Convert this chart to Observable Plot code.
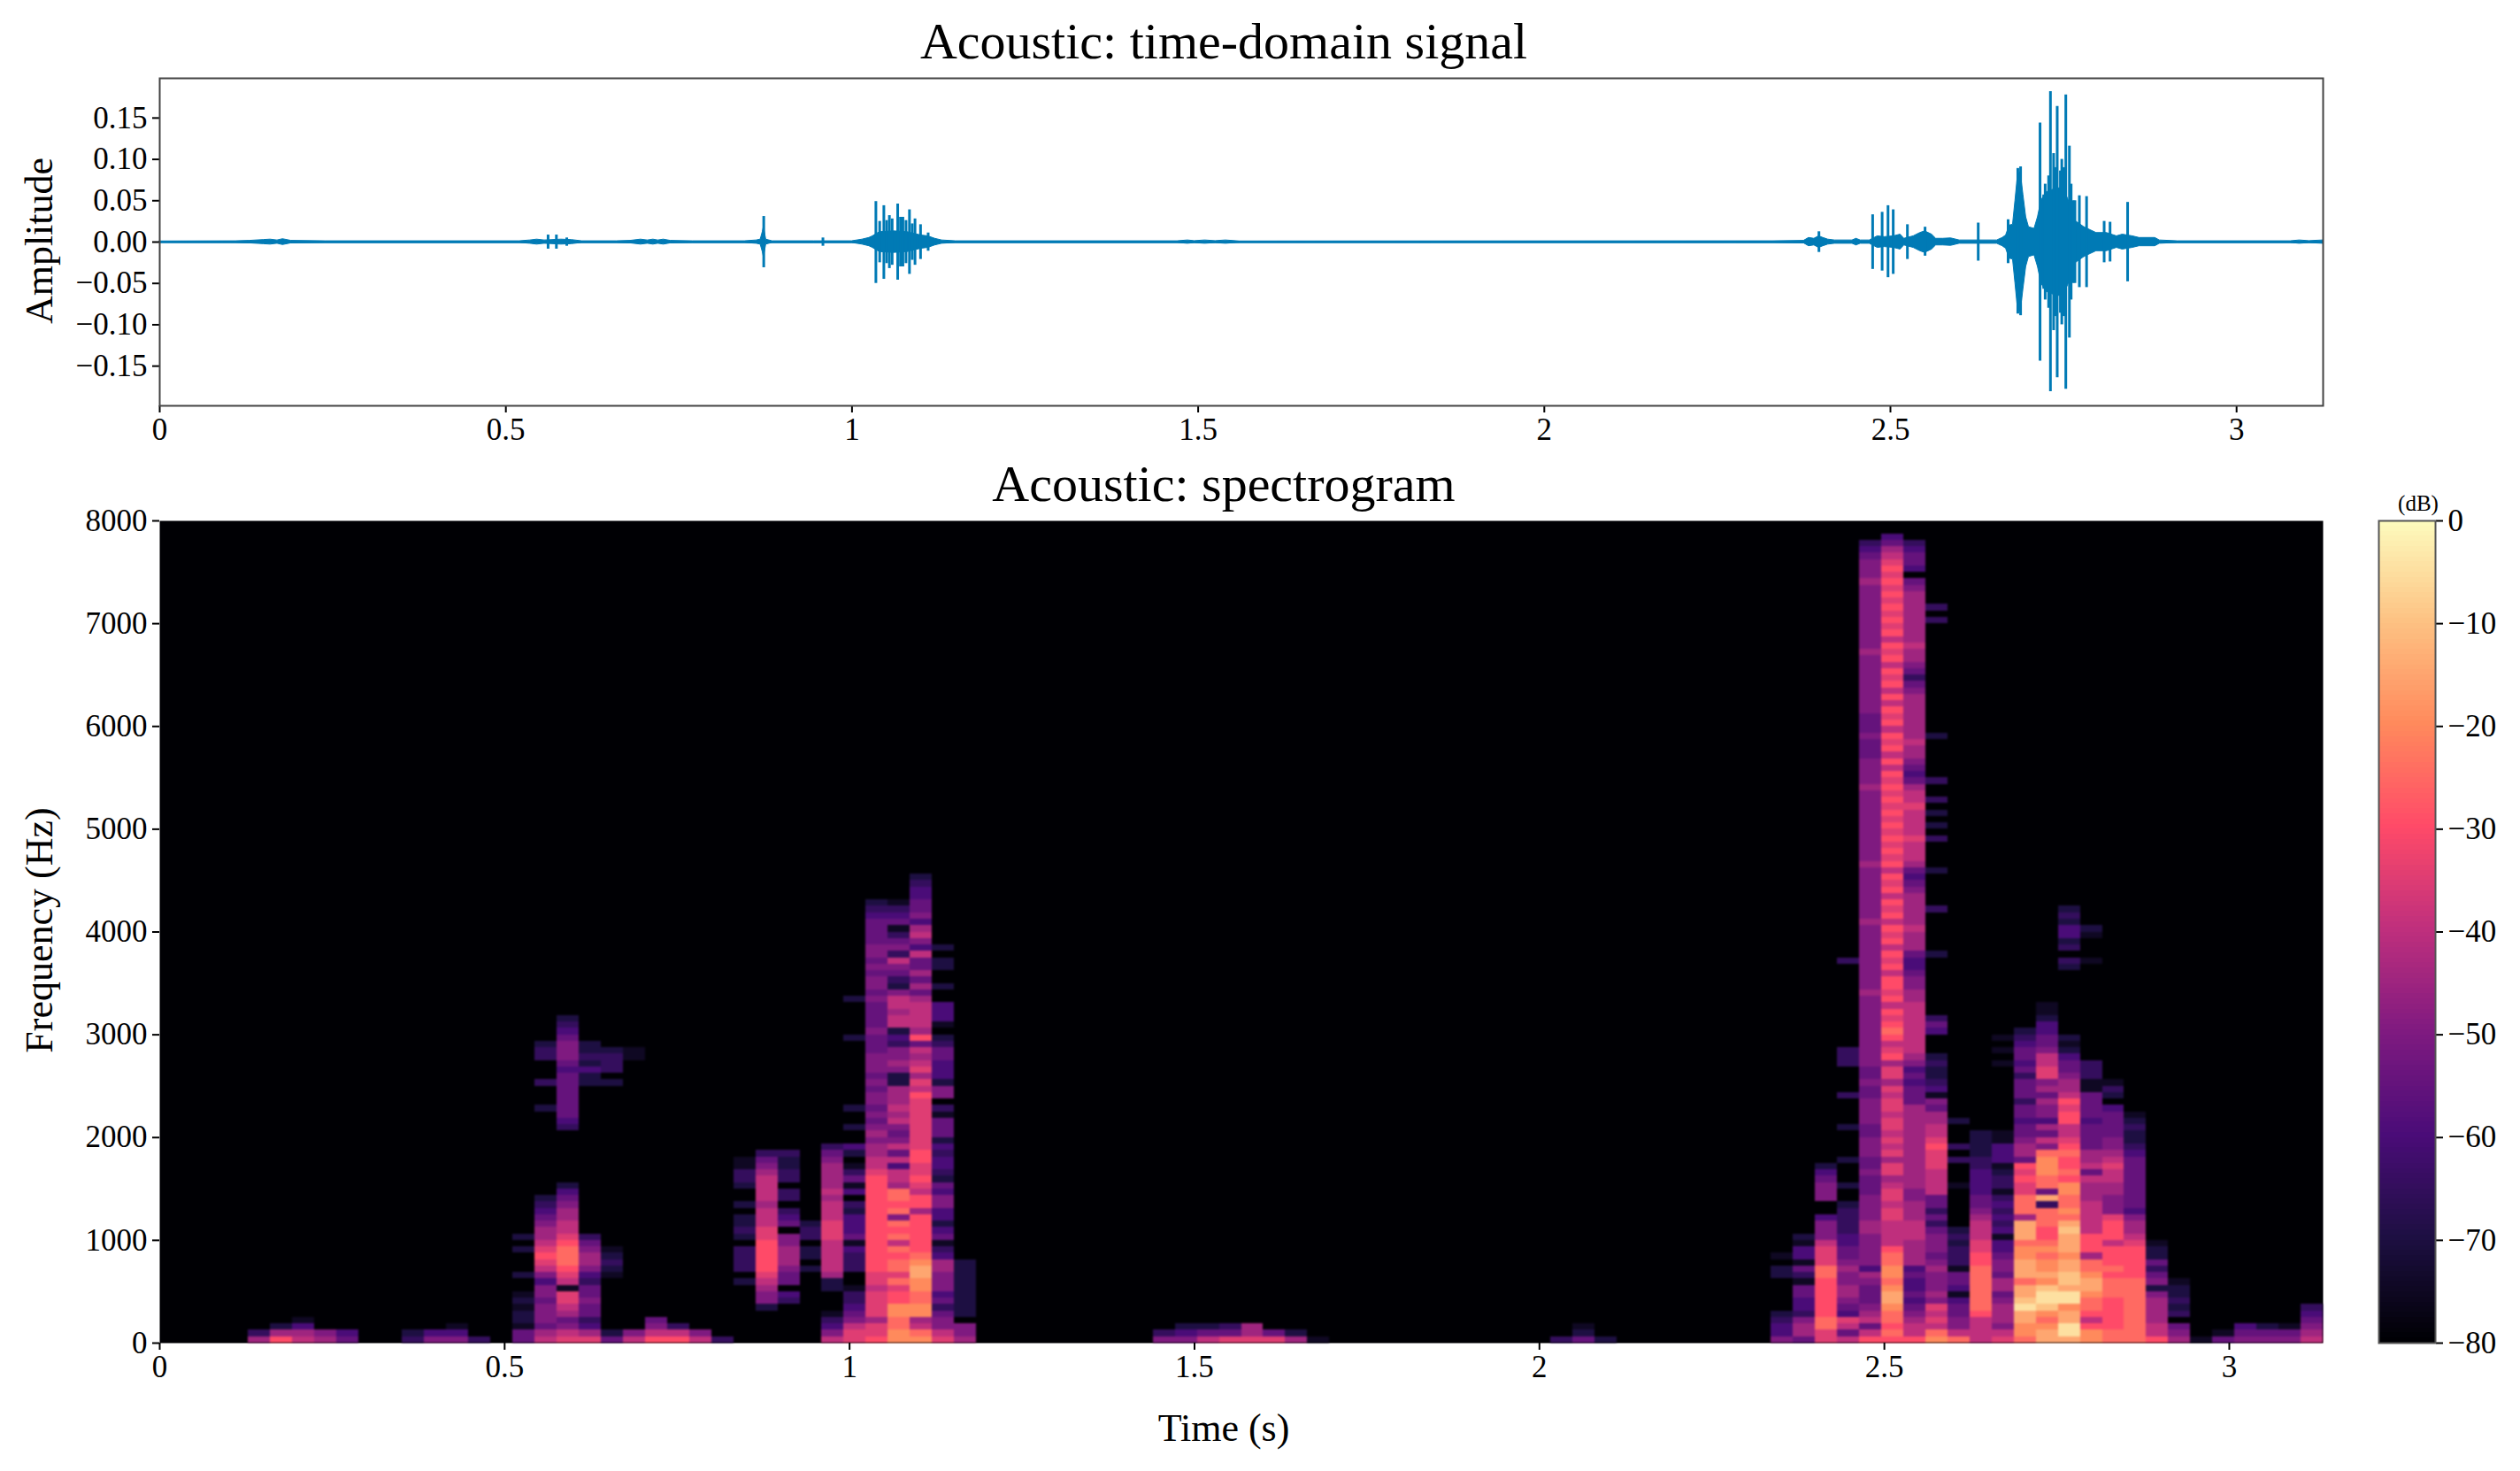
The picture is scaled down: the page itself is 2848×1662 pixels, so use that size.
<!DOCTYPE html>
<html>
<head>
<meta charset="utf-8">
<title>Acoustic</title>
<script src="https://cdn.jsdelivr.net/npm/d3@7"></script>
<script src="https://cdn.jsdelivr.net/npm/@observablehq/plot@0.6"></script>
<style>
  html, body { margin: 0; background: #fff; }
  #page { position: relative; width: 2848px; height: 1662px; overflow: hidden; font-family: "Liberation Serif", serif; color: #000; }
  #page svg { position: absolute; overflow: visible; }
  .label { position: absolute; white-space: nowrap; line-height: 1; }
  .title { font-size: 58px; left: 1383px; transform: translateX(-50%); }
  .axis { font-size: 44px; }
  .rot { left: 45px; transform: translate(-50%, -50%) rotate(-90deg); }
  .cells { filter: blur(1px); }
</style>
</head>
<body>
<div id="page">
  <div class="label title" style="top:18px">Acoustic: time-domain signal</div>
  <div class="label title" style="top:518px">Acoustic: spectrogram</div>
  <div class="label axis rot" style="top:272px">Amplitude</div>
  <div class="label axis rot" style="top:1051px">Frequency (Hz)</div>
  <div class="label axis" style="left:1383px;top:1592px;transform:translateX(-50%)">Time (s)</div>
  <div class="label" style="left:2733px;top:556px;font-size:25px;transform:translateX(-50%)">(dB)</div>
</div>
<script>
// tick labels
const timeTicks = [0, 0.5, 1, 1.5, 2, 2.5, 3];
const ampTicks = [-0.15, -0.10, -0.05, 0, 0.05, 0.10, 0.15];
const freqTicks = [0, 1000, 2000, 3000, 4000, 5000, 6000, 7000, 8000];
const dbTicks = [0, -10, -20, -30, -40, -50, -60, -70, -80];

// waveform body: the solid envelope, read burst by burst
const waveTimes = [
  0, 0.11, 0.13, 0.15, 0.16, 0.17, 0.178, 0.19, 0.24,
  0.52, 0.535, 0.545, 0.556, 0.58, 0.595, 0.61, 0.66, 0.68, 0.695, 0.705, 0.713, 0.72, 0.728, 0.738, 0.77,
  0.845, 0.862, 0.868, 0.871, 0.8725, 0.874, 0.876, 0.885, 0.945, 1.0, 1.015, 1.025, 1.03, 1.04, 1.06, 1.08, 1.1, 1.11, 1.12, 1.13, 1.15,
  1.47, 1.485, 1.495, 1.51, 1.525, 1.54, 1.56,
  2.33, 2.375, 2.3823, 2.39, 2.3967, 2.403, 2.41, 2.42, 2.445, 2.4508, 2.457, 2.47, 2.4815, 2.4915, 2.505, 2.5145, 2.52, 2.5335, 2.543, 2.55, 2.56, 2.566, 2.576, 2.5875, 2.6, 2.654,
  2.662, 2.667, 2.672, 2.677, 2.6805, 2.684, 2.688, 2.692, 2.696, 2.70, 2.708, 2.713, 2.718, 2.725, 2.74, 2.75, 2.76, 2.768, 2.78, 2.79, 2.7976, 2.8126, 2.827, 2.8354, 2.8498, 2.8596, 2.8824, 2.889, 2.915,
  3.078, 3.091, 3.105, 3.125
];
const waveBody = [
  0.0008, 0.001, 0.0015, 0.0025, 0.003, 0.002, 0.0035, 0.0015, 0.001,
  0.001, 0.002, 0.003, 0.002, 0.003, 0.0025, 0.001, 0.001, 0.0015, 0.003, 0.002, 0.003, 0.002, 0.003, 0.0015, 0.001,
  0.001, 0.002, 0.003, 0.012, 0.018, 0.012, 0.003, 0.001, 0.001, 0.001, 0.003, 0.005, 0.007, 0.012, 0.013, 0.012, 0.008, 0.007, 0.004, 0.002, 0.001,
  0.001, 0.002, 0.0012, 0.002, 0.0012, 0.002, 0.0008,
  0.001, 0.0015, 0.005, 0.004, 0.007, 0.005, 0.003, 0.002, 0.002, 0.004, 0.002, 0.002, 0.007, 0.006, 0.007, 0.009, 0.004, 0.007, 0.011, 0.013, 0.009, 0.004, 0.004, 0.0045, 0.002, 0.002,
  0.005, 0.008, 0.02, 0.021, 0.05, 0.08, 0.085, 0.057, 0.03, 0.018, 0.016, 0.03, 0.05, 0.06, 0.065, 0.065, 0.045, 0.025, 0.018, 0.014, 0.011, 0.011, 0.007, 0.009, 0.007, 0.005, 0.005, 0.002, 0.001,
  0.001, 0.002, 0.0012, 0.002
];

// single tall spikes standing out of the body
const spikeTimes = [0.561, 0.573, 0.588, 0.8725, 0.958,
  1.0345, 1.04, 1.046, 1.05, 1.054, 1.058, 1.066, 1.07, 1.0735, 1.078, 1.083, 1.087, 1.091, 1.099, 1.11,
  2.3967, 2.4743, 2.488, 2.4965, 2.504, 2.5245, 2.55, 2.6268, 2.67,
  2.684, 2.688, 2.7161, 2.7214, 2.7235, 2.7285, 2.7311, 2.7357, 2.7385, 2.7409, 2.7455, 2.7475, 2.7505, 2.7533, 2.7585, 2.761, 2.7637, 2.7665, 2.7729, 2.7833, 2.8087, 2.8172, 2.8426];
const spikeUpper = [0.0085, 0.0085, 0.005, 0.031, 0.005,
  0.049, 0.025, 0.044, 0.026, 0.032, 0.028, 0.046, 0.03, 0.03, 0.026, 0.039, 0.022, 0.028, 0.021, 0.011,
  0.0125, 0.033, 0.036, 0.044, 0.039, 0.021, 0.018, 0.023, 0.027,
  0.089, 0.091, 0.144, 0.057, 0.07, 0.08, 0.182, 0.107, 0.09, 0.164, 0.086, 0.1, 0.09, 0.178, 0.116, 0.07, 0.05, 0.05, 0.056, 0.055, 0.025, 0.024, 0.048];
const spikeLower = [-0.0085, -0.0085, -0.005, -0.031, -0.005,
  -0.05, -0.025, -0.045, -0.026, -0.032, -0.028, -0.046, -0.03, -0.03, -0.026, -0.039, -0.022, -0.028, -0.021, -0.011,
  -0.0125, -0.033, -0.035, -0.043, -0.039, -0.021, -0.017, -0.023, -0.026,
  -0.087, -0.089, -0.144, -0.057, -0.07, -0.08, -0.181, -0.107, -0.09, -0.164, -0.086, -0.1, -0.09, -0.178, -0.116, -0.07, -0.05, -0.05, -0.055, -0.055, -0.025, -0.024, -0.048];

// spectrogram: one string per 32 ms frame, bottom row first, one char per 62.5 Hz bin
// char = level in 5 dB steps above -80 (0 = -80 dB, g = 0 dB)
const levelChars = '0123456789abcdefg';
const frameSeconds = 0.032;
const binHz = 62.5;
const specFrames = [4, 5, 6, 7, 8, 11, 12, 13, 14, 16, 17, 18, 19, 20, 21, 22, 23, 24, 25, 26, 27, 28, 29, 30, 31, 32, 33, 34, 35, 36,
  45, 46, 47, 48, 49, 50, 51, 52, 63, 64, 65,
  73, 74, 75, 76, 77, 78, 79, 80, 81, 82, 83, 84, 85, 86, 87, 88, 89, 90, 91, 92, 93, 94, 95, 96, 97];
const specLevels = [
  '73', 'a72', '8741', '76', '54', '32', '64', '641', '3',
  '55122121002000202',
  '87566656646' + '89a987765432' + '0000000000000' + '20003000332',
  '9865789918' + '9abbba988776542' + '00000000' + '345555555456665432',
  '97435565534677653' + '00000000000000000000000' + '2242322',
  '5200000000' + '12321' + '0000000000000000000000000' + '203332',
  '86' + '000000000000000000000000000000000000000000' + '11',
  'a865', 'a83', '86', '3',
  '000000000' + '20' + '3333' + '0' + '2322' + '0' + '2' + '00' + '23311',
  '00000' + '2' + '66789aaaaa99888788887653',
  '000000' + '340556777660' + '5430' + '330' + '33223',
  '00000000000' + '2' + '0' + '22' + '0' + '332',
  '86431' + '000' + '22' + '788888999888787777653',
  '99865433100' + '3334' + '1' + '5444' + '23' + '0' + '41' + '531' + '0' + '24' + '00' + '2' + '00' + '2' + '0000000000' + '2' + '00000' + '2',
  'a997999989' + '9' + 'aaaaaaaaaaaaaaa' + '9887767656566565666555655556566565665555432',
  'ccbbccaa9b9bbab8bab6babb' + '78848586568787772267663428878862356836531' + '5431',
  'cb87ccbbccddcbaaaaaa' + '7aa89a99aa' + '99999999' + 'a89798785a' + '788887' + '575755' + '846874' + '6554432',
  '9866535466' + '67743' + '15424' + '46645' + '23443' + '42555' + '13066' + '24445' + '53201' + '44400' + '20022' + '02',
  '766' + '0' + '222222222',
  '63', '642', '852', '953', '977', '95', '72', '1', '3', '521', '2',
  '64432' + '00000' + '22' + '0' + '1',
  '5776344551' + '3514412',
  '99bbaaaaaabb9998666400666542',
  '8589456776676554433332' + '002000200002000030000333' + '00000000000003',
  'a858765556' + '7466666776' + '6665556556' + '6655666655' + '655666'
    + '666666667666666666676666666676666666666676666'
    + '55565556' + '66666666766666666667666' + '543',
  'ababbcddcb' + 'ccbba88889' + '9899879979' + '8989989989' + '7997a98aba' + '9a8a9a'
    + 'a8a9a8a9a8a9a8a9a8' + 'a9a9a9a9a9a9a9a' + '8a8a9a8a9a8a8a9a8a9a8a' + '9a9a9a9a9a9' + '8754',
  'a887654544' + '5477778887' + '7766777777' + '7777777555' + '4546788888' + '8887766544' + '5'
    + '7' + '77877777' + '6545' + '7' + '88898888988' + '75456' + '7787777777' + '65356' + '7787777777' + '765' + '0' + '45543',
  'cb89896766' + '6765666535' + '3558888999' + 'a988775614' + '32232' + '000' + '453' + '000000000' + '2' + '000000' + '3' + '00000' + '2' + '0000' + '3' + '0' + '2' + '0' + '2' + '0' + '3' + '00' + '3' + '000000' + '2' + '00000000000000000' + '3' + '0' + '3',
  'b866554145' + '51333232' + '000000' + '1' + '000' + '3' + '0' + '3' + '000' + '2',
  '8888abbbbb' + 'bbaa998887' + '6554444332' + '222',
  '9867776577' + '5665441434' + '3431332144' + '411' + '0000000000' + '1' + '0' + '1' + '0' + '1',
  'bccddfeddb' + 'dddccbddd7' + 'bbb99a9a57' + '7655455355' + '535455432',
  'ddcbceffec' + 'dccbcbaabb' + 'b3d5bbcccb' + '6857466757' + '6998865544' + '211',
  'dffddcffde' + 'eddcdddedb' + 'cbbccabaab' + 'a988aa9a87' + '76554212' + '0000000000' + '2303244232',
  'cca8abbcdd' + 'cbb7aaa888' + '8877785877' + '5555455551' + '1333' + '000000000000000' + '1' + '000' + '1' + '2',
  'bbaaaaabbb' + 'abaaa8aaa9' + '6667788987' + '6655554023' + '1',
  'bbbbbbbbbb' + 'aaaaa98776' + '4555555554' + '322321',
  'a887777626' + '535221',
  '7650323221', '1', '51', '654', '652', '651', '876543'
];

// colour ramp stops
const dbStops = [-80, -70, -60, -50, -40, -30, -20, -10, 0];
const dbColors = ['#000004', '#1d0f42', '#4a0c78', '#7f1a80', '#bf2f7d', '#ff4a68', '#ff8a5c', '#fdc283', '#fdfdbf'];

const waveRows = waveTimes.map((t, i) => ({ t, amp: waveBody[i] }));
const spikeRows = spikeTimes.map((t, i) => ({ t, hi: spikeUpper[i], lo: spikeLower[i] }));
const specCells = specFrames.flatMap((frame, i) =>
  Array.from(specLevels[i], (c, bin) => ({ frame, bin, db: -80 + 5 * levelChars.indexOf(c) }))
    .filter(d => d.db > -80));

const page = document.getElementById('page');
const font = { background: 'transparent', color: '#000', fontFamily: '"Liberation Serif", serif', fontSize: '35px', maxWidth: 'none' };
const minus = v => String(v).replace('-', '\u2212');
const waveBlue = '#007ab5';

const wavePlot = Plot.plot({
  style: font,
  width: 2848, height: 520,
  marginTop: 88, marginBottom: 62, marginLeft: 180, marginRight: 223,
  x: { domain: [0, 3.125] },
  y: { domain: [-0.198, 0.198] },
  marks: [
    Plot.ruleY([0], { stroke: waveBlue, strokeWidth: 2.5 }),
    Plot.areaY(waveRows, { x: 't', y1: d => -d.amp, y2: 'amp', fill: waveBlue, stroke: waveBlue, strokeWidth: 1 }),
    Plot.ruleX(spikeRows, { x: 't', y1: 'lo', y2: 'hi', stroke: waveBlue, strokeWidth: 3 }),
    Plot.axisX({ ticks: timeTicks, tickFormat: d => String(d), tickSize: 8, tickPadding: 6, strokeWidth: 2, fontSize: 35, label: null }),
    Plot.axisY({ ticks: ampTicks, tickFormat: d => minus(d.toFixed(2)), tickSize: 8, tickPadding: 6, strokeWidth: 2, fontSize: 35, label: null }),
    Plot.frame({ stroke: '#444', strokeWidth: 2 })
  ]
});
wavePlot.style.left = '0px';
wavePlot.style.top = '0px';
page.appendChild(wavePlot);

const specPlot = Plot.plot({
  style: font,
  width: 2650, height: 1142,
  marginTop: 68, marginBottom: 145, marginLeft: 180, marginRight: 25,
  x: { domain: [0, frameSeconds * 98] },
  y: { domain: [0, 8000] },
  color: { type: 'linear', domain: dbStops, range: dbColors, clamp: true },
  marks: [
    Plot.frame({ fill: '#000004' }),
    Plot.rect(specCells, {
      x1: d => d.frame * frameSeconds, x2: d => (d.frame + 1) * frameSeconds,
      y1: d => d.bin * binHz, y2: d => (d.bin + 1) * binHz,
      fill: 'db', shapeRendering: 'crispEdges', className: 'cells'
    }),
    Plot.axisX({ ticks: timeTicks, tickFormat: d => String(d), tickSize: 8, tickPadding: 6, strokeWidth: 2, fontSize: 35, label: null }),
    Plot.axisY({ ticks: freqTicks, tickFormat: d => String(d), tickSize: 8, tickPadding: 6, strokeWidth: 2, fontSize: 35, label: null })
  ]
});
specPlot.style.left = '0px';
specPlot.style.top = '520px';
page.appendChild(specPlot);

const barPlot = Plot.plot({
  style: font,
  width: 198, height: 1142,
  marginTop: 68, marginBottom: 145, marginLeft: 38, marginRight: 96,
  x: { domain: [0, 1], axis: null },
  y: { domain: [-80, 0] },
  color: { type: 'linear', domain: dbStops, range: dbColors },
  marks: [
    Plot.rect(d3.range(-80, 0, 0.5), { x1: 0, x2: 1, y1: d => d, y2: d => d + 0.5, fill: d => d, shapeRendering: 'crispEdges' }),
    Plot.axisY({ anchor: 'right', ticks: dbTicks, tickFormat: minus, tickSize: 8, tickPadding: 6, strokeWidth: 2, fontSize: 35, label: null }),
    Plot.frame({ stroke: '#555', strokeWidth: 2 })
  ]
});
barPlot.style.left = '2650px';
barPlot.style.top = '520px';
page.appendChild(barPlot);
</script>
</body>
</html>
